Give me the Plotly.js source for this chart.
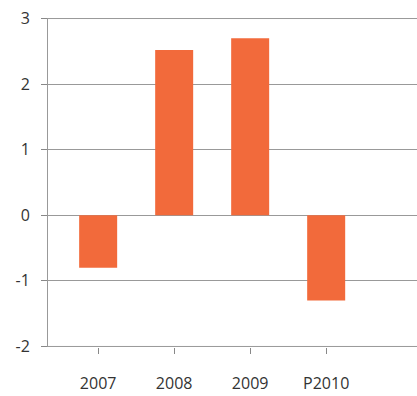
<!DOCTYPE html>
<html>
<head>
<meta charset="utf-8">
<script src="https://cdn.plot.ly/plotly-3.0.1.min.js"></script>
<style>html,body{margin:0;padding:0;background:#fff;}#chart{width:417px;height:396px;}</style>
</head>
<body>
<div id="chart"></div>
<script>
const categories = ["2007", "2008", "2009", "P2010"];
const values = [-0.8, 2.52, 2.7, -1.3];
const yTicks = [-2, -1, 0, 1, 2, 3];

const trace = {
  type: "bar",
  x: categories,
  y: values,
  marker: {color: "#f26a3b", line: {width: 0}},
  width: 0.5,
  hoverinfo: "skip"
};

const edgeLines = [yTicks[0], yTicks[yTicks.length - 1]].map(v => ({
  type: "line", xref: "paper", yref: "y", x0: 0, x1: 1, y0: v, y1: v,
  line: {color: "#999", width: 1}, layer: "below"
}));

const layout = {
  width: 417,
  height: 396,
  margin: {l: 48, r: 0, t: 18, b: 49},
  paper_bgcolor: "#ffffff",
  plot_bgcolor: "#ffffff",
  showlegend: false,
  font: {family: "Open Sans, Noto Sans, sans-serif", size: 15, color: "#333"},
  shapes: edgeLines,
  xaxis: {
    type: "category",
    range: [-0.66, 4.195],
    showgrid: false,
    showline: false,
    ticks: "outside",
    ticklen: 6,
    tickcolor: "#888",
    tickwidth: 1,
    ticklabelstandoff: 16,
    tickfont: {size: 16, color: "#333"}
  },
  yaxis: {
    range: [-2.008, 3.008],
    tickvals: yTicks,
    ticktext: yTicks.map(String),
    showgrid: true,
    gridcolor: "#999",
    gridwidth: 1,
    zeroline: true,
    zerolinecolor: "#999",
    zerolinewidth: 1,
    showline: true,
    linecolor: "#999",
    linewidth: 1,
    ticks: "outside",
    ticklen: 6,
    tickcolor: "#888",
    ticklabelstandoff: 8,
    tickfont: {size: 16, color: "#333"}
  }
};

Plotly.newPlot("chart", [trace], layout, {staticPlot: true, displayModeBar: false});
</script>
</body>
</html>
